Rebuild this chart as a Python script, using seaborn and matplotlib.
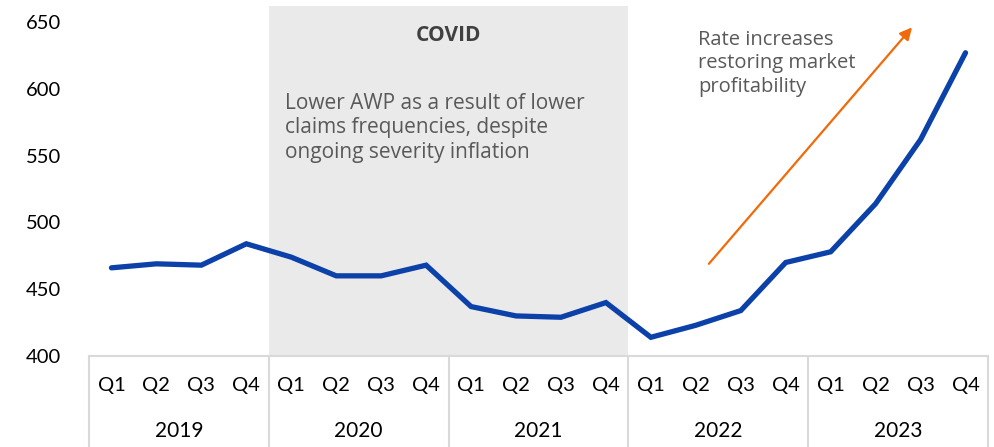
import matplotlib
matplotlib.use("Agg")
import matplotlib.pyplot as plt
import seaborn as sns
import pandas as pd
from matplotlib.lines import Line2D

# data
years = ["2019", "2020", "2021", "2022", "2023"]
quarters = ["Q1", "Q2", "Q3", "Q4"]
awp = [466, 469, 468, 484,
       474, 460, 460, 468,
       437, 430, 429, 440,
       414, 423, 434, 470,
       478, 514, 562, 627]

df = pd.DataFrame({"idx": range(len(awp)), "awp": awp})

sns.set_theme(style="white")
plt.rcParams["font.family"] = ["Lato", "DejaVu Sans"]

fig = plt.figure(figsize=(9.94, 4.47), dpi=100)
ax = fig.add_axes([89 / 994, 91 / 447, 899 / 994, 350 / 447])

# COVID shading: 2020 Q1 .. 2021 Q4
ax.axvspan(3.5, 11.5, color="#EAEAEA", zorder=0, lw=0)

sns.lineplot(data=df, x="idx", y="awp", ax=ax, color="#0B41A8",
             linewidth=3.8, solid_joinstyle="miter", zorder=3)

ax.set_xlim(-0.5, 19.5)
ax.set_ylim(400, 662)
ax.set_yticks([400, 450, 500, 550, 600, 650])
ax.set_xlabel("")
ax.set_ylabel("")
for s in ["top", "right", "left"]:
    ax.spines[s].set_visible(False)
ax.spines["bottom"].set_color("#D9D9D9")
ax.spines["bottom"].set_linewidth(1.5)

ax.set_xticks(range(20))
ax.set_xticklabels(quarters * 5)
ax.tick_params(axis="x", length=0, pad=15, labelsize=14.5, colors="black")
ax.tick_params(axis="y", length=0, pad=20, labelsize=14.5, colors="black")

# year labels and separators under the axis
for i, yr in enumerate(years):
    ax.text(i * 4 + 1.5, -0.215, yr, transform=ax.get_xaxis_transform(),
            ha="center", va="center", fontsize=15, color="black")
for b in range(6):
    xpos = b * 4 - 0.5
    ln = Line2D([xpos, xpos], [0, -0.3], transform=ax.get_xaxis_transform(),
                color="#D9D9D9", lw=1.5, clip_on=False)
    ax.add_line(ln)

# annotations
ax.text(7.5, 640, "COVID", ha="center", va="center", fontsize=15,
        fontweight="bold", color="#404040", family=["Open Sans", "DejaVu Sans"])
ax.text(3.85, 597, "Lower AWP as a result of lower\nclaims frequencies, despite\nongoing severity inflation",
        ha="left", va="top", fontsize=15, color="#595959", linespacing=1.22,
        family=["Open Sans", "DejaVu Sans"])
ax.text(13.05, 644, "Rate increases\nrestoring market\nprofitability",
        ha="left", va="top", fontsize=14.5, color="#595959", linespacing=1.22,
        family=["Open Sans", "DejaVu Sans"])
ax.annotate("", xy=(17.81, 646), xytext=(13.29, 469),
            arrowprops=dict(arrowstyle="-|>", color="#F06A0A", lw=1.6,
                            mutation_scale=18, shrinkA=0, shrinkB=0))

fig.savefig("out.png", dpi=100)
